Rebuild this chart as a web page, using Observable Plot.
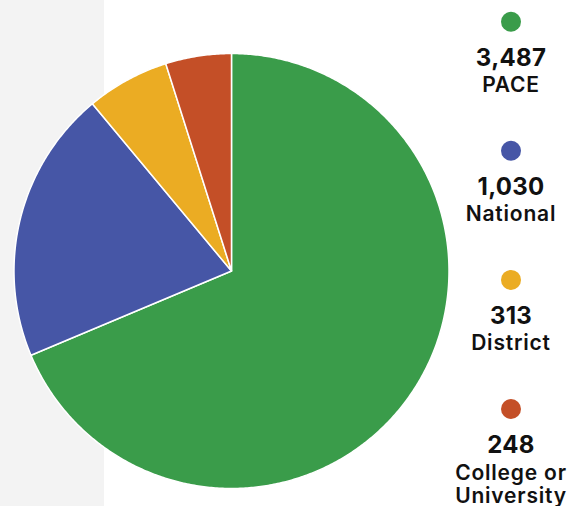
<!DOCTYPE html>
<html>
<head>
<meta charset="utf-8">
<script src="https://cdn.jsdelivr.net/npm/d3@7"></script>
<script src="https://cdn.jsdelivr.net/npm/@observablehq/plot@0.6"></script>
<style>
  html, body { margin: 0; padding: 0; background: white; }
  #wrap { position: relative; width: 572px; height: 506px; overflow: hidden;
          background: linear-gradient(to right, #f3f3f3 0px, #f3f3f3 104px, #ffffff 104px); }
  #wrap svg { position: absolute; left: 0; top: 0; }
</style>
</head>
<body>
<div id="wrap"></div>
<script>
const categories = ["PACE", "National", "District", "College or University"];
const labelLines = [["PACE"], ["National"], ["District"], ["College or", "University"]];
const values = [3487, 1030, 313, 248];
const colors = ["#3a9c4a", "#4656a6", "#ebac23", "#c44f27"];

const W = 572, H = 506;
const cx = 231, cy = 270.5, R = 217.5;

// Build slice polygons (unit circle coords) from the data via d3.pie
const arcs = d3.pie().sort(null).value(d => d.value)(
  categories.map((c, i) => ({category: c, value: values[i]}))
);
const pts = [];
arcs.forEach(a => {
  const c = a.data.category;
  pts.push({category: c, x: 0, y: 0});
  const n = Math.max(2, Math.ceil((a.endAngle - a.startAngle) / (Math.PI / 360)));
  for (let k = 0; k <= n; k++) {
    const t = a.startAngle + (a.endAngle - a.startAngle) * k / n;
    pts.push({category: c, x: Math.sin(t), y: Math.cos(t)});
  }
  pts.push({category: c, x: 0, y: 0});
});

const chart = Plot.plot({
  width: W,
  height: H,
  marginLeft: cx - R,
  marginRight: W - (cx + R),
  marginTop: cy - R,
  marginBottom: H - (cy + R),
  style: {background: "transparent"},
  x: {domain: [-1, 1], axis: null},
  y: {domain: [-1, 1], axis: null},
  color: {domain: categories, range: colors},
  marks: [
    Plot.line(pts, {x: "x", y: "y", z: "category", fill: "category",
      stroke: "white", strokeWidth: 1.5, strokeLinejoin: "round", curve: "linear"})
  ]
});
document.getElementById("wrap").appendChild(chart);

// Legend on the right
const legend = d3.select("#wrap").append("svg")
  .attr("width", W).attr("height", H)
  .style("font-family", "Inter, 'Open Sans', sans-serif");
const lx = 511, step = 129.1;
categories.forEach((c, i) => {
  const y0 = 21.7 + i * step;
  legend.append("circle").attr("cx", lx).attr("cy", y0).attr("r", 10).attr("fill", colors[i]);
  legend.append("text").attr("x", lx).attr("y", y0 + 44.3)
    .attr("text-anchor", "middle").attr("font-size", 24).attr("font-weight", 700)
    .attr("letter-spacing", 0.3)
    .attr("fill", "#111").text(d3.format(",")(values[i]));
  labelLines[i].forEach((ln, j) => {
    legend.append("text").attr("x", lx).attr("y", y0 + 70.5 + j * 23.5)
      .attr("text-anchor", "middle").attr("font-size", 21).attr("font-weight", 600)
      .attr("letter-spacing", 0.8)
      .attr("fill", "#111").text(ln);
  });
});
</script>
</body>
</html>
